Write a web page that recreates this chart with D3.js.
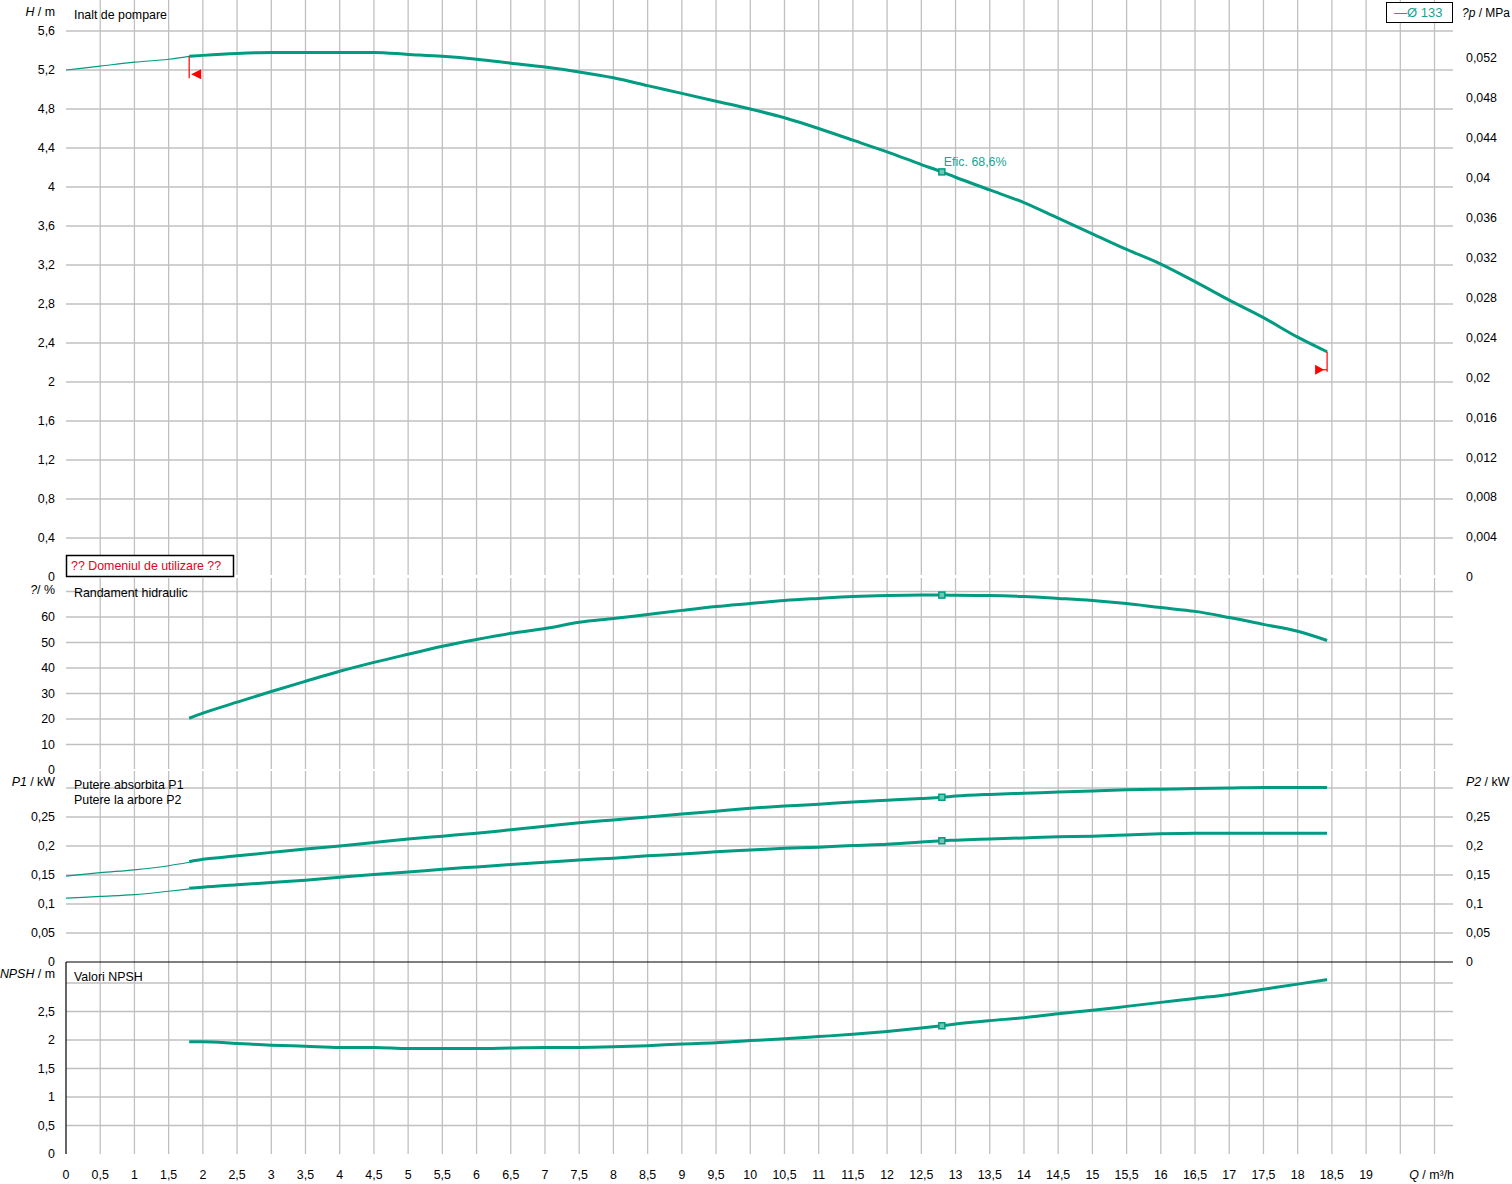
<!DOCTYPE html>
<html>
<head>
<meta charset="UTF-8">
<script src="https://d3js.org/d3.v7.min.js"></script>
<style>
  body { margin: 0; background: #fff; }
  text { font-family: "Liberation Sans", Arial, sans-serif; font-size: 12.4px; fill: #000; }
</style>
</head>
<body>
<svg id="canvas"></svg>
<script>
// flow points (m³/h) for the operating range, plus the thin start-up part
const qMain = [1.8, 2, 2.5, 3, 3.5, 4, 4.5, 5, 5.5, 6, 6.5, 7, 7.5, 8, 8.5, 9, 9.5, 10, 10.5, 11, 11.5, 12, 12.5, 12.8, 13, 13.5, 14, 14.5, 15, 15.5, 16, 16.5, 17, 17.5, 18, 18.43];
const qLow = [0, 0.5, 1, 1.5, 1.8];

const headMain = [5.34, 5.35, 5.37, 5.38, 5.38, 5.38, 5.38, 5.36, 5.34, 5.31, 5.27, 5.23, 5.18, 5.12, 5.04, 4.96, 4.88, 4.80, 4.71, 4.60, 4.48, 4.36, 4.23, 4.155, 4.10, 3.97, 3.84, 3.68, 3.52, 3.36, 3.21, 3.03, 2.84, 2.66, 2.46, 2.31];
const headLow = [5.20, 5.24, 5.28, 5.31, 5.34];

const effMain = [20.3, 22.3, 26.6, 30.8, 34.8, 38.7, 42.2, 45.4, 48.5, 51.2, 53.6, 55.5, 57.9, 59.4, 61.0, 62.6, 64.1, 65.3, 66.5, 67.3, 68.0, 68.4, 68.6, 68.6, 68.5, 68.4, 68.0, 67.3, 66.5, 65.3, 63.7, 62.2, 59.8, 57.1, 54.4, 50.8];

const p1Main = [0.173, 0.177, 0.183, 0.189, 0.195, 0.200, 0.206, 0.212, 0.217, 0.222, 0.228, 0.234, 0.240, 0.245, 0.250, 0.255, 0.260, 0.265, 0.269, 0.272, 0.276, 0.279, 0.282, 0.284, 0.286, 0.289, 0.291, 0.293, 0.295, 0.297, 0.298, 0.299, 0.300, 0.301, 0.301, 0.301];
const p1Low = [0.148, 0.154, 0.159, 0.166, 0.172];

const p2Main = [0.127, 0.129, 0.133, 0.137, 0.141, 0.146, 0.151, 0.155, 0.160, 0.164, 0.168, 0.172, 0.176, 0.179, 0.183, 0.186, 0.190, 0.193, 0.196, 0.198, 0.201, 0.203, 0.207, 0.209, 0.210, 0.212, 0.214, 0.216, 0.217, 0.219, 0.221, 0.222, 0.222, 0.222, 0.222, 0.222];
const p2Low = [0.110, 0.113, 0.116, 0.122, 0.126];

const npshMain = [1.97, 1.97, 1.94, 1.91, 1.89, 1.87, 1.87, 1.85, 1.85, 1.85, 1.86, 1.87, 1.87, 1.88, 1.90, 1.93, 1.95, 1.99, 2.02, 2.06, 2.10, 2.15, 2.21, 2.25, 2.28, 2.34, 2.39, 2.46, 2.52, 2.59, 2.66, 2.73, 2.80, 2.89, 2.98, 3.06];

// duty point
const dutyQ = 12.8;
const dutyLabel = "Efic.  68,6%";

// tick values
const qTicks = d3.range(0, 19.01, 0.5);
const qGrid = d3.range(0.5, 20.01, 0.5);
const headTicks = d3.range(0, 5.61, 0.4);
const dpTicks = d3.range(0, 0.0521, 0.004);
const effTicks = [0, 10, 20, 30, 40, 50, 60];
const effGrid = [10, 20, 30, 40, 50, 60, 70];
const powTicks = [0, 0.05, 0.1, 0.15, 0.2, 0.25];
const powGrid = [0.05, 0.1, 0.15, 0.2, 0.25, 0.3];
const npshTicks = [0, 0.5, 1, 1.5, 2, 2.5];
const npshGrid = [0.5, 1, 1.5, 2, 2.5, 3];

const width = 1512, height = 1184;
const teal = "#009b80", tealText = "#1aa393", grid = "#c0c0c0";
const fmt = v => String(+v.toFixed(3)).replace(".", ",");

const svg = d3.select("#canvas").attr("width", width).attr("height", height);

const x = d3.scaleLinear().domain([0, 20.27]).range([66, 1453]);

const yH = d3.scaleLinear().domain([0, 5.6]).range([577, 31]);
const yDp = d3.scaleLinear().domain([0, 0.052]).range([577, 58]);
const yE = d3.scaleLinear().domain([0, 70]).range([770, 591.5]);
const yP = d3.scaleLinear().domain([0, 0.3]).range([962, 788]);
const yN = d3.scaleLinear().domain([0, 3]).range([1154, 983]);

// panel extents for the vertical grid lines
const panels = [
  {top: 0, bottom: 575, y: yH, grid: headTicks.filter(d => d > 0)},
  {top: 578, bottom: 769, y: yE, grid: effGrid},
  {top: 771, bottom: 962, y: yP, grid: powGrid},
  {top: 962, bottom: 1154, y: yN, grid: npshGrid}
];

const gGrid = svg.append("g").attr("stroke", grid).attr("stroke-width", 1.3);
panels.forEach(p => {
  gGrid.append("g").selectAll("line").data(qGrid).join("line")
    .attr("x1", d => x(d)).attr("x2", d => x(d))
    .attr("y1", p.top).attr("y2", p.bottom);
  gGrid.append("g").selectAll("line").data(p.grid).join("line")
    .attr("x1", x(0)).attr("x2", 1453)
    .attr("y1", d => p.y(d)).attr("y2", d => p.y(d));
});

// black frame of the NPSH panel
svg.append("line").attr("x1", x(0)).attr("x2", 1453).attr("y1", yP(0)).attr("y2", yP(0))
  .attr("stroke", "#000").attr("stroke-width", 1.2);
svg.append("line").attr("x1", x(0)).attr("x2", x(0)).attr("y1", yP(0)).attr("y2", yN(0))
  .attr("stroke", "#000").attr("stroke-width", 1.2);

// tick labels
function leftLabels(ticks, y) {
  svg.append("g").selectAll("text").data(ticks).join("text")
    .attr("x", 55).attr("y", d => y(d)).attr("dy", "0.35em")
    .attr("text-anchor", "end").text(fmt);
}
function rightLabels(ticks, y) {
  svg.append("g").selectAll("text").data(ticks).join("text")
    .attr("x", 1466).attr("y", d => y(d)).attr("dy", "0.35em")
    .text(fmt);
}
leftLabels(headTicks, yH);
rightLabels(dpTicks, yDp);
leftLabels(effTicks, yE);
leftLabels(powTicks, yP);
rightLabels(powTicks, yP);
leftLabels(npshTicks, yN);

svg.append("g").selectAll("text").data(qTicks).join("text")
  .attr("x", d => x(d)).attr("y", 1175).attr("dy", "0.35em")
  .attr("text-anchor", "middle").text(fmt);

// axis names
function axisName(xp, yp, ital, rest, anchor) {
  const t = svg.append("text").attr("x", xp).attr("y", yp).attr("dy", "0.35em")
    .attr("text-anchor", anchor);
  t.append("tspan").attr("font-style", "italic").text(ital);
  t.append("tspan").text(rest);
  return t;
}
axisName(55, 12, "H", " / m", "end");
axisName(55, 590, "?", "/ %", "end");
axisName(55, 782, "P1", " / kW", "end");
axisName(55, 974, "NPSH", " / m", "end");
axisName(1510, 13, "?p", " / MPa", "end").style("font-size", "12px");
axisName(1466, 782, "P2", " / kW", "start");
axisName(1454, 1175, "Q", " / m³/h", "end");

// panel titles
[["Inalt de pompare", 15], ["Randament hidraulic", 593], ["Putere absorbita P1", 785],
 ["Putere la arbore P2", 800], ["Valori NPSH", 977]].forEach(([t, yp]) => {
  svg.append("text").attr("x", 74).attr("y", yp).attr("dy", "0.35em").text(t);
});

// curves
const line = y => d3.line().x(d => x(d[0])).y(d => y(d[1])).curve(d3.curveMonotoneX);
function curve(qs, vs, y, w) {
  svg.append("path").datum(qs.map((q, i) => [q, vs[i]]))
    .attr("d", line(y)).attr("fill", "none").attr("stroke", teal).attr("stroke-width", w);
}
curve(qLow, headLow, yH, 1.2);
curve(qLow, p1Low, yP, 1.2);
curve(qLow, p2Low, yP, 1.2);
curve(qMain, headMain, yH, 3);
curve(qMain, effMain, yE, 3);
curve(qMain, p1Main, yP, 3);
curve(qMain, p2Main, yP, 3);
curve(qMain, npshMain, yN, 3);

// duty point markers
const di = qMain.indexOf(dutyQ);
[[headMain, yH], [effMain, yE], [p1Main, yP], [p2Main, yP], [npshMain, yN]].forEach(([vs, y]) => {
  svg.append("rect").attr("x", x(dutyQ) - 3).attr("y", y(vs[di]) - 3)
    .attr("width", 6).attr("height", 6)
    .attr("fill", "#6cc7b4").attr("stroke", teal).attr("stroke-width", 1.5);
});
svg.append("text").attr("x", x(dutyQ) + 2).attr("y", yH(headMain[di]) - 10).attr("dy", "0.35em")
  .style("fill", tealText).text(dutyLabel);

// limits of the operating range (red markers)
const qStart = qMain[0], qEnd = qMain[qMain.length - 1];
const hStart = headMain[0], hEnd = headMain[headMain.length - 1];
svg.append("line").attr("x1", x(qStart)).attr("x2", x(qStart))
  .attr("y1", yH(hStart)).attr("y2", yH(hStart) + 22).attr("stroke", "red").attr("stroke-width", 1.2);
svg.append("path")
  .attr("d", `M${x(qStart) + 2},${yH(hStart) + 18} l10,-5 v10 z`).attr("fill", "red");
svg.append("line").attr("x1", x(qEnd)).attr("x2", x(qEnd))
  .attr("y1", yH(hEnd)).attr("y2", yH(hEnd) + 20).attr("stroke", "red").attr("stroke-width", 1.2);
svg.append("line").attr("x1", x(qEnd) - 4).attr("x2", x(qEnd))
  .attr("y1", yH(hEnd) + 18).attr("y2", yH(hEnd) + 18).attr("stroke", "red").attr("stroke-width", 1.2);
svg.append("path")
  .attr("d", `M${x(qEnd) - 12},${yH(hEnd) + 13} l9,5 l-9,5 z`).attr("fill", "red");

// legend box
svg.append("rect").attr("x", 1386.5).attr("y", 2.5).attr("width", 66).attr("height", 20)
  .attr("fill", "#fff").attr("stroke", "#000").attr("stroke-width", 1);
svg.append("text").attr("x", 1394).attr("y", 12.5).attr("dy", "0.35em")
  .style("fill", tealText).style("font-size", "13px").text("—Ø 133");

// operating range notice
svg.append("rect").attr("x", 66.5).attr("y", 555.5).attr("width", 167).attr("height", 21)
  .attr("fill", "#fff").attr("stroke", "#000").attr("stroke-width", 1.5);
svg.append("text").attr("x", 71).attr("y", 566).attr("dy", "0.35em")
  .style("fill", "#e8001c").text("?? Domeniul de utilizare ??");
</script>
</body>
</html>
